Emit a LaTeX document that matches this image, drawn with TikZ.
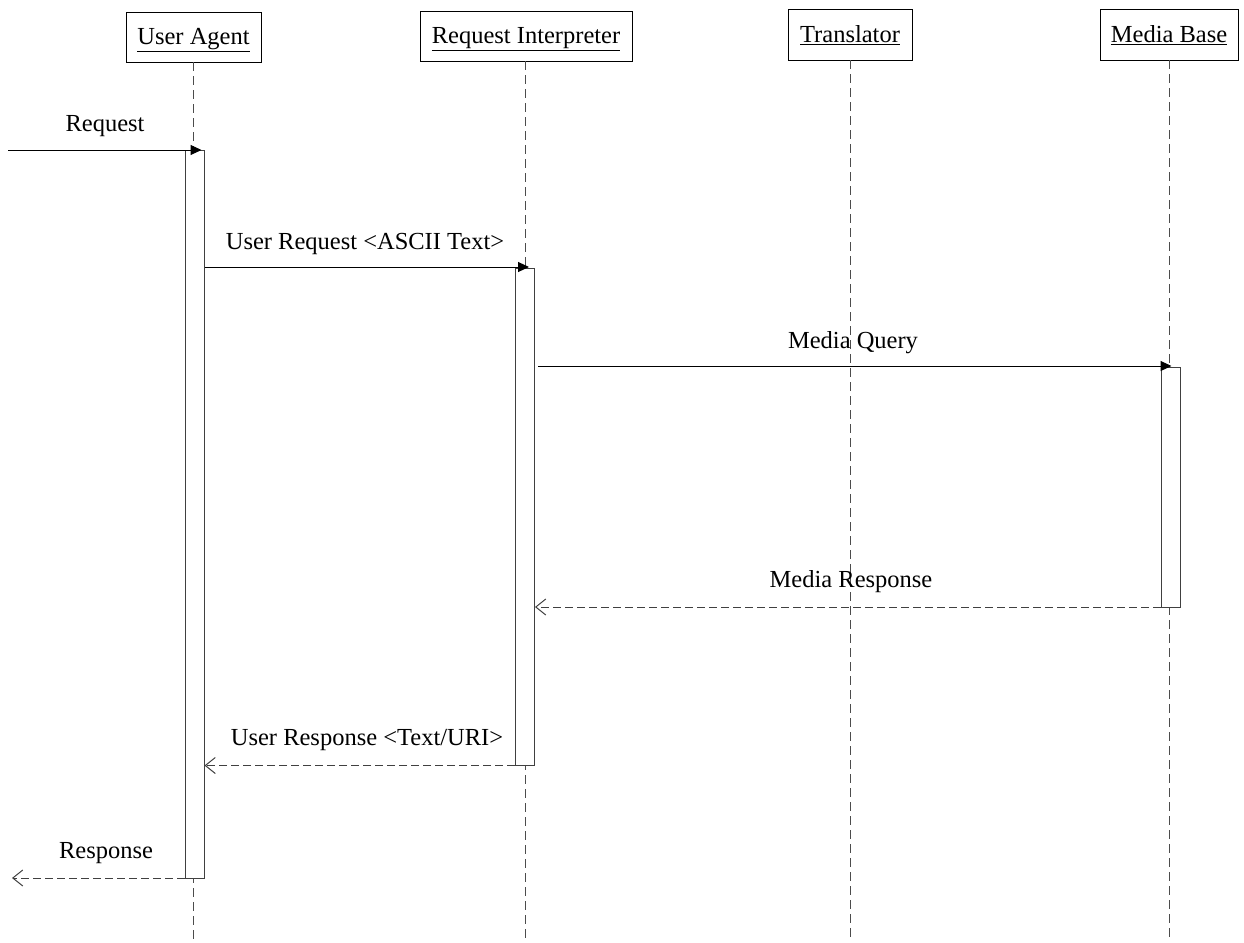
\documentclass[tikz,border=0pt]{standalone}
\usepackage{fontspec}
\setmainfont{Liberation Serif}
\usetikzlibrary{arrows.meta,calc}
\begin{document}
\begin{tikzpicture}[x=1pt,y=-1pt,
  actor/.style={draw=black,line width=0.9pt,fill=white,inner sep=0pt,
    text height=20pt,text depth=4pt,
    font=\fontsize{24.5}{28}\selectfont},
  lifeline/.style={draw=black!70,line width=1pt,dash pattern=on 9pt off 5pt},
  activation/.style={draw=black!75,line width=1pt,fill=white,minimum width=19pt,inner sep=0pt},
  call/.style={draw=black,line width=1pt,-{Triangle[length=11pt,width=10pt]}},
  reply/.style={draw=black!75,line width=1pt,dash pattern=on 8pt off 4pt,
    -{Straight Barb[length=10pt,width=16pt,line width=1pt]}},
  lbl/.style={font=\fontsize{24.5}{28}\selectfont,inner sep=0pt}]
\useasboundingbox (0,0) rectangle (1244,942);

% participants
\node[actor,minimum width=135pt,minimum height=50pt] (ua) at (193.5,37) {\underline{User Agent}};
\node[actor,minimum width=212pt,minimum height=50pt] (ri) at (526,36) {\underline{Request Interpreter}};
\node[actor,minimum width=124pt,minimum height=51pt] (tr) at (850,34.5) {\underline{Translator}};
\node[actor,minimum width=138pt,minimum height=51pt] (mb) at (1169,34.5) {\underline{Media Base}};

% lifeline ends
\coordinate (uaend) at (193,942);
\coordinate (riend) at (525,942);
\coordinate (trend) at (850,942);
\coordinate (mbend) at (1169,942);

\draw[lifeline] (ua.south -| uaend) -- (uaend);
\draw[lifeline] (ri.south -| riend) -- (riend);
\draw[lifeline] (tr.south -| trend) -- (trend);
\draw[lifeline] (mb.south -| mbend) -- (mbend);

% activation bars
\node[activation,anchor=north,minimum height=728pt] (uabar) at (194.5,150) {};
\node[activation,anchor=north,minimum height=497pt] (ribar) at (525,268) {};
\node[activation,anchor=north,minimum height=240pt] (mbbar) at (1170.5,367) {};

% message end points
\coordinate (reqin) at (8,150);
\coordinate (respout) at (12,877);
\coordinate (uatip) at ([xshift=7pt]uabar.north);
\coordinate (ritip) at ([xshift=4pt]ribar.north);
\coordinate (mbtip) at ([xshift=1pt]mbbar.north);
\coordinate (ureq) at ($(uabar.north east)+(0,117)$);
\coordinate (mq) at ($(ribar.north east)+(3,98)$);
\coordinate (mr) at ($(mbbar.south west)+(0,-1)$);
\coordinate (ures) at ($(ribar.south west)+(0,-0.5)$);
\coordinate (resp) at ($(uabar.south west)+(0,-1)$);

% messages
\draw[call] (reqin) -- (reqin -| uatip);
\node[lbl] (lreq) at (105,126) {Request};

\draw[call] (ureq) -- (ureq -| ritip);
\node[lbl] (luserreq) at (365,244) {User Request <ASCII Text>};

\draw[call] (mq) -- (mq -| mbtip);
\node[lbl] (lmq) at (853,343) {Media Query};

\draw[reply] (mr) -- (mr -| ribar.east);
\node[lbl] (lmr) at (851,582) {Media Response};

\draw[reply] (ures) -- (ures -| uabar.east);
\node[lbl] (lur) at (367,740) {User Response <Text/URI>};

\draw[reply] (resp) -- (resp -| respout);
\node[lbl] (lresp) at (106,853) {Response};
\end{tikzpicture}
\end{document}
